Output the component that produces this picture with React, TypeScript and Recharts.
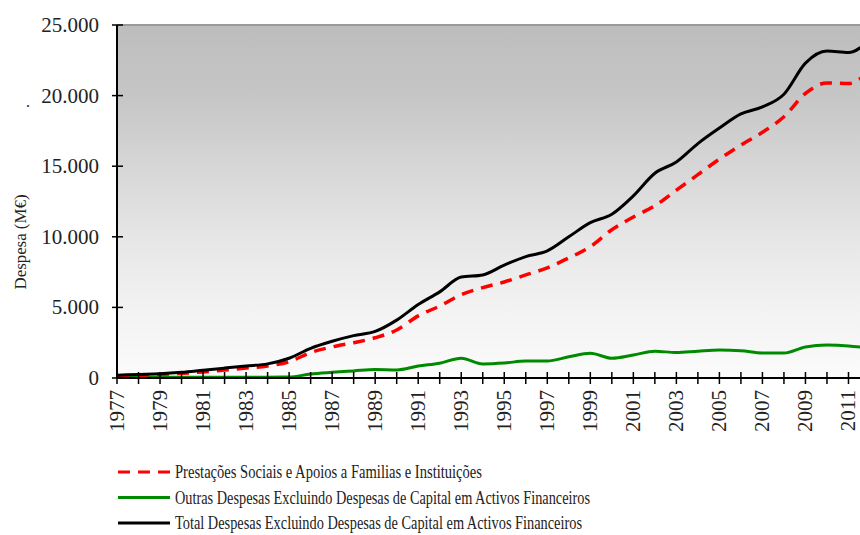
import { CartesianGrid, Line, LineChart, ReferenceLine, XAxis, YAxis } from "recharts";

const years = [
  1977, 1978, 1979, 1980, 1981, 1982, 1983, 1984, 1985, 1986, 1987, 1988,
  1989, 1990, 1991, 1992, 1993, 1994, 1995, 1996, 1997, 1998, 1999, 2000,
  2001, 2002, 2003, 2004, 2005, 2006, 2007, 2008, 2009, 2010, 2011, 2012,
];

// Prestações Sociais e Apoios a Familias e Instituições
const prestacoes = [
  150, 200, 250, 330, 430, 560, 700, 850, 1150, 1800, 2200, 2500, 2850, 3400,
  4400, 5100, 5900, 6400, 6800, 7300, 7800, 8500, 9300, 10500, 11400, 12200,
  13300, 14400, 15500, 16500, 17400, 18500, 20150, 20900, 20850, 21800,
];

// Outras Despesas
const outras = [
  60, 60, 60, 60, 60, 60, 60, 60, 70, 280, 400, 500, 600, 570, 850, 1050,
  1400, 1000, 1060, 1200, 1200, 1500, 1750, 1400, 1630, 1900, 1800, 1900,
  1980, 1930, 1770, 1770, 2200, 2330, 2270, 2100,
];

// Total Despesas
const total = [
  200, 250, 300, 400, 550, 700, 850, 1000, 1400, 2100, 2600, 3000, 3300, 4100,
  5200, 6100, 7150, 7300, 8000, 8600, 9000, 10000, 11000, 11600, 12900, 14500,
  15300, 16600, 17700, 18700, 19200, 20100, 22300, 23150, 23050, 24000,
];

const yTicks = [0, 5000, 10000, 15000, 20000, 25000];

const seriesNames = [
  "Prestações Sociais e Apoios a Familias e Instituições",
  "Outras Despesas Excluindo Despesas de Capital em Activos Financeiros",
  "Total Despesas Excluindo Despesas de Capital em Activos Financeiros",
];

const data = years.map((y, i) => ({
  year: y,
  prestacoes: prestacoes[i],
  outras: outras[i],
  total: total[i],
}));

const FONT = '"Liberation Serif", "Times New Roman", serif';

const fmt = (v: number) =>
  v === 0 ? "0" : String(v).replace(/\B(?=(\d{3})+(?!\d))/g, ".");

function YTick(props: any) {
  const { x, y, payload } = props;
  return (
    <g>
      <line x1={x - 5} x2={x + 6} y1={y} y2={y} stroke="#000" strokeWidth={1.5} />
      <text
        x={x - 18}
        y={y}
        textAnchor="end"
        dominantBaseline="central"
        fontFamily={FONT}
        fontSize={21}
        fill="#222"
      >
        {fmt(payload.value)}
      </text>
    </g>
  );
}

function XTick(props: any) {
  const { x, y, payload } = props;
  const showLabel = payload.value % 2 === 1;
  return (
    <g>
      <line x1={x} x2={x} y1={y - 6} y2={y + 6} stroke="#000" strokeWidth={1.5} />
      {showLabel && (
        <text
          x={x}
          y={y + 12}
          transform={`rotate(-90 ${x} ${y + 12})`}
          textAnchor="end"
          dominantBaseline="central"
          fontFamily={FONT}
          fontSize={21}
          fill="#222"
        >
          {payload.value}
        </text>
      )}
    </g>
  );
}

const legendRows = [
  { name: seriesNames[0], color: "#ff0000", dash: "12 8", width: 307 },
  { name: seriesNames[1], color: "#008a00", dash: undefined, width: 415 },
  { name: seriesNames[2], color: "#000000", dash: undefined, width: 407 },
];

export default function App() {
  // fixed frame covering the whole 860x535 page, so nothing scrolls
  return (
    <div
      style={{
        position: "fixed",
        left: 0,
        top: 0,
        width: 860,
        height: 535,
        overflow: "hidden",
        background: "#fff",
      }}
    >
      <div style={{ position: "absolute", left: 8, top: 8 }}>
        <LineChart
          width={880}
          height={527}
          data={data}
          margin={{ top: 17, right: 18, left: 0, bottom: 97 }}
        >
          <defs>
            <linearGradient id="plotBg" x1="0" y1="0" x2="0" y2="1">
              <stop offset="0%" stopColor="#bdbdbd" />
              <stop offset="20%" stopColor="#c6c6c6" />
              <stop offset="40%" stopColor="#d6d6d6" />
              <stop offset="60%" stopColor="#e6e6e6" />
              <stop offset="80%" stopColor="#f2f2f2" />
              <stop offset="100%" stopColor="#fbfbfb" />
            </linearGradient>
          </defs>
          <CartesianGrid horizontal={false} vertical={false} fill="url(#plotBg)" />
          <ReferenceLine y={25000} stroke="#9a9a9a" strokeWidth={2} />
          <XAxis
            dataKey="year"
            type="number"
            domain={[1977, 2012]}
            ticks={years}
            interval={0}
            height={60}
            tickLine={false}
            tickSize={0}
            tickMargin={0}
            axisLine={{ stroke: "#000", strokeWidth: 2 }}
            tick={<XTick />}
          />
          <YAxis
            type="number"
            domain={[0, 25000]}
            ticks={yTicks}
            width={109}
            tickLine={false}
            tickSize={0}
            tickMargin={0}
            axisLine={{ stroke: "#000", strokeWidth: 2 }}
            tick={<YTick />}
          />
          <Line
            type="monotone"
            dataKey="outras"
            stroke="#008a00"
            strokeWidth={3}
            dot={false}
            isAnimationActive={false}
          />
          <Line
            type="monotone"
            dataKey="prestacoes"
            stroke="#ff0000"
            strokeWidth={3.5}
            strokeDasharray="12 8"
            dot={false}
            isAnimationActive={false}
          />
          <Line
            type="monotone"
            dataKey="total"
            stroke="#000000"
            strokeWidth={3}
            dot={false}
            isAnimationActive={false}
          />
        </LineChart>
      </div>

      {/* axis title, stray dot and legend (page coordinates) */}
      <svg
        width={860}
        height={535}
        style={{ position: "absolute", left: 0, top: 0, pointerEvents: "none" }}
      >
        <text x={26} y={107} fontFamily={FONT} fontSize={16} fill="#222">
          .
        </text>
        <text
          x={20}
          y={242}
          transform="rotate(-90 20 242)"
          textAnchor="middle"
          dominantBaseline="central"
          fontFamily={FONT}
          fontSize={17}
          fill="#222"
          textLength={95}
          lengthAdjust="spacingAndGlyphs"
        >
          Despesa (M€)
        </text>
        {legendRows.map((r, i) => {
          const cy = 472 + i * 25.5;
          return (
            <g key={r.name}>
              <line
                x1={118}
                x2={170}
                y1={cy}
                y2={cy}
                stroke={r.color}
                strokeWidth={3}
                strokeDasharray={r.dash}
              />
              <text
                x={175}
                y={cy}
                dominantBaseline="central"
                fontFamily={FONT}
                fontSize={18}
                fill="#222"
                textLength={r.width}
                lengthAdjust="spacingAndGlyphs"
              >
                {r.name}
              </text>
            </g>
          );
        })}
      </svg>
    </div>
  );
}
